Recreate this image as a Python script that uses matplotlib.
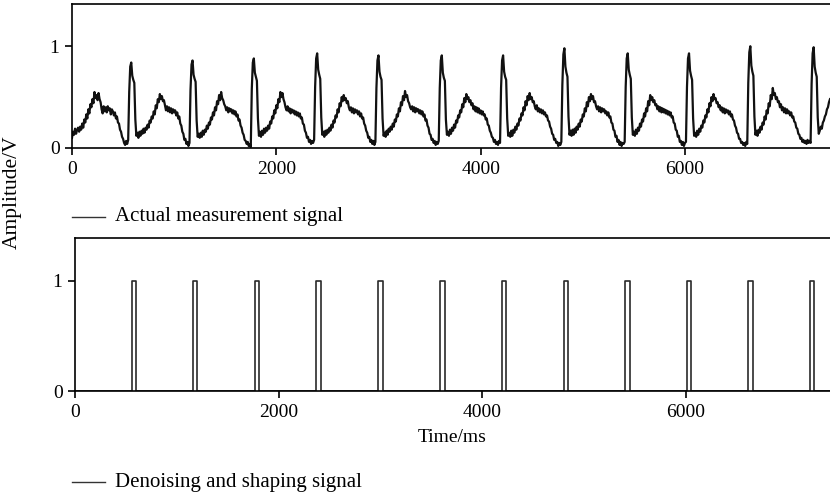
import numpy as np
import matplotlib
matplotlib.use("Agg")
import matplotlib.pyplot as plt

plt.rcParams['font.family'] = ['Liberation Serif', 'DejaVu Serif']
plt.rcParams['font.size'] = 14

# raw channel, 10 ms samples; one segment per beat, starting at each spike
sample_ms = 10
beat_starts = [0, 560, 1160, 1760, 2380, 2980, 3600, 4200, 4800, 5420, 6020, 6620, 7240]

lead_in = [
    0.10, 0.16, 0.13, 0.19, 0.14, 0.18, 0.20, 0.16, 0.21, 0.18,
    0.24, 0.20, 0.28, 0.25, 0.33, 0.29, 0.38, 0.34, 0.43, 0.40,
    0.48, 0.44, 0.55, 0.49, 0.52, 0.47, 0.54, 0.48, 0.45, 0.38,
    0.34, 0.41, 0.36, 0.40, 0.35, 0.41, 0.37, 0.39, 0.33, 0.38,
    0.36, 0.32, 0.35, 0.29, 0.31, 0.25, 0.24, 0.18, 0.16, 0.11,
    0.09, 0.05, 0.03, 0.07, 0.04, 0.08,
]
beat_1 = [
    0.55, 0.80, 0.84, 0.71, 0.67, 0.64, 0.28, 0.12, 0.15, 0.10,
    0.16, 0.12, 0.17, 0.14, 0.19, 0.15, 0.20, 0.18, 0.23, 0.20,
    0.27, 0.25, 0.31, 0.29, 0.36, 0.33, 0.42, 0.39, 0.48, 0.45,
    0.53, 0.48, 0.51, 0.46, 0.47, 0.42, 0.37, 0.41, 0.36, 0.40,
    0.35, 0.39, 0.34, 0.38, 0.35, 0.37, 0.32, 0.35, 0.29, 0.31,
    0.24, 0.22, 0.16, 0.14, 0.08, 0.09, 0.04, 0.06, 0.02, 0.05,
]
beat_2 = [
    0.57, 0.82, 0.86, 0.72, 0.68, 0.65, 0.27, 0.11, 0.14, 0.10,
    0.15, 0.11, 0.17, 0.13, 0.18, 0.16, 0.22, 0.19, 0.25, 0.23,
    0.30, 0.28, 0.35, 0.32, 0.40, 0.37, 0.46, 0.43, 0.52, 0.47,
    0.55, 0.49, 0.47, 0.43, 0.41, 0.37, 0.40, 0.35, 0.39, 0.36,
    0.38, 0.34, 0.37, 0.33, 0.36, 0.31, 0.33, 0.27, 0.28, 0.22,
    0.20, 0.15, 0.13, 0.08, 0.07, 0.04, 0.06, 0.02, 0.04, 0.01,
]
beat_3 = [
    0.58, 0.84, 0.88, 0.74, 0.70, 0.66, 0.29, 0.12, 0.16, 0.11,
    0.17, 0.13, 0.19, 0.15, 0.20, 0.17, 0.22, 0.19, 0.26, 0.24,
    0.31, 0.29, 0.37, 0.34, 0.42, 0.39, 0.48, 0.45, 0.55, 0.50,
    0.54, 0.48, 0.45, 0.40, 0.37, 0.41, 0.36, 0.39, 0.34, 0.38,
    0.35, 0.37, 0.33, 0.36, 0.32, 0.35, 0.31, 0.34, 0.29, 0.30,
    0.24, 0.23, 0.17, 0.15, 0.10, 0.11, 0.06, 0.08, 0.04, 0.07,
    0.05, 0.08,
]
beat_4 = [
    0.60, 0.88, 0.93, 0.77, 0.72, 0.68, 0.30, 0.13, 0.16, 0.11,
    0.17, 0.13, 0.18, 0.15, 0.20, 0.17, 0.23, 0.20, 0.27, 0.25,
    0.32, 0.30, 0.38, 0.35, 0.44, 0.41, 0.50, 0.46, 0.52, 0.47,
    0.49, 0.44, 0.46, 0.40, 0.37, 0.40, 0.35, 0.39, 0.34, 0.38,
    0.35, 0.37, 0.33, 0.36, 0.31, 0.34, 0.29, 0.30, 0.24, 0.22,
    0.17, 0.15, 0.10, 0.11, 0.06, 0.08, 0.04, 0.07, 0.03, 0.06,
]
beat_5 = [
    0.59, 0.86, 0.91, 0.75, 0.70, 0.67, 0.29, 0.12, 0.15, 0.11,
    0.17, 0.13, 0.19, 0.16, 0.21, 0.18, 0.24, 0.21, 0.28, 0.26,
    0.33, 0.31, 0.39, 0.36, 0.45, 0.42, 0.51, 0.47, 0.56, 0.50,
    0.52, 0.46, 0.44, 0.40, 0.38, 0.41, 0.36, 0.40, 0.35, 0.39,
    0.36, 0.38, 0.34, 0.37, 0.33, 0.36, 0.31, 0.33, 0.27, 0.28,
    0.22, 0.20, 0.14, 0.13, 0.08, 0.09, 0.05, 0.07, 0.03, 0.06,
    0.04, 0.07,
]
beat_6 = [
    0.59, 0.86, 0.91, 0.74, 0.69, 0.66, 0.28, 0.13, 0.16, 0.12,
    0.18, 0.14, 0.20, 0.17, 0.23, 0.20, 0.27, 0.25, 0.32, 0.30,
    0.37, 0.35, 0.43, 0.40, 0.49, 0.45, 0.53, 0.48, 0.50, 0.45,
    0.47, 0.42, 0.44, 0.38, 0.41, 0.36, 0.40, 0.35, 0.39, 0.34,
    0.37, 0.33, 0.36, 0.32, 0.33, 0.28, 0.29, 0.23, 0.22, 0.17,
    0.15, 0.11, 0.10, 0.06, 0.08, 0.04, 0.06, 0.03, 0.07, 0.05,
]
beat_7 = [
    0.59, 0.86, 0.91, 0.75, 0.70, 0.67, 0.29, 0.12, 0.15, 0.11,
    0.17, 0.12, 0.18, 0.15, 0.21, 0.18, 0.24, 0.22, 0.29, 0.27,
    0.34, 0.32, 0.40, 0.37, 0.46, 0.42, 0.51, 0.47, 0.54, 0.48,
    0.50, 0.45, 0.46, 0.41, 0.38, 0.42, 0.36, 0.39, 0.35, 0.38,
    0.34, 0.37, 0.33, 0.35, 0.31, 0.32, 0.27, 0.26, 0.21, 0.19,
    0.14, 0.13, 0.08, 0.09, 0.05, 0.06, 0.02, 0.05, 0.03, 0.06,
]
beat_8 = [
    0.62, 0.92, 0.98, 0.80, 0.74, 0.70, 0.31, 0.13, 0.17, 0.12,
    0.18, 0.13, 0.19, 0.15, 0.21, 0.18, 0.24, 0.21, 0.28, 0.26,
    0.33, 0.31, 0.39, 0.36, 0.45, 0.41, 0.50, 0.46, 0.53, 0.48,
    0.51, 0.45, 0.46, 0.41, 0.38, 0.41, 0.36, 0.40, 0.35, 0.39,
    0.36, 0.38, 0.34, 0.36, 0.32, 0.35, 0.30, 0.31, 0.25, 0.24,
    0.18, 0.17, 0.11, 0.12, 0.06, 0.08, 0.03, 0.06, 0.02, 0.05,
    0.04, 0.06,
]
beat_9 = [
    0.60, 0.88, 0.93, 0.77, 0.72, 0.68, 0.30, 0.13, 0.16, 0.12,
    0.18, 0.14, 0.20, 0.17, 0.24, 0.21, 0.28, 0.26, 0.34, 0.31,
    0.39, 0.36, 0.46, 0.42, 0.52, 0.47, 0.50, 0.45, 0.47, 0.42,
    0.43, 0.38, 0.41, 0.36, 0.40, 0.35, 0.39, 0.35, 0.38, 0.34,
    0.37, 0.33, 0.36, 0.32, 0.35, 0.30, 0.31, 0.25, 0.24, 0.18,
    0.17, 0.11, 0.12, 0.06, 0.07, 0.03, 0.06, 0.02, 0.05, 0.06,
]
beat_10 = [
    0.60, 0.88, 0.93, 0.76, 0.71, 0.67, 0.29, 0.12, 0.15, 0.11,
    0.17, 0.13, 0.19, 0.16, 0.22, 0.20, 0.27, 0.25, 0.32, 0.30,
    0.38, 0.35, 0.44, 0.41, 0.50, 0.46, 0.53, 0.48, 0.49, 0.44,
    0.45, 0.40, 0.42, 0.37, 0.40, 0.35, 0.39, 0.34, 0.38, 0.35,
    0.37, 0.33, 0.36, 0.31, 0.33, 0.28, 0.27, 0.22, 0.20, 0.15,
    0.14, 0.09, 0.09, 0.05, 0.06, 0.03, 0.05, 0.02, 0.06, 0.04,
]
beat_11 = [
    0.64, 0.94, 1.00, 0.81, 0.75, 0.71, 0.31, 0.13, 0.17, 0.12,
    0.18, 0.15, 0.21, 0.18, 0.25, 0.23, 0.31, 0.28, 0.37, 0.34,
    0.44, 0.41, 0.52, 0.48, 0.59, 0.52, 0.54, 0.48, 0.50, 0.45,
    0.46, 0.40, 0.43, 0.37, 0.40, 0.35, 0.39, 0.34, 0.38, 0.34,
    0.36, 0.32, 0.35, 0.30, 0.31, 0.26, 0.25, 0.20, 0.19, 0.14,
    0.13, 0.09, 0.10, 0.06, 0.08, 0.05, 0.07, 0.04, 0.08, 0.05,
    0.07, 0.05,
]
beat_12 = [
    0.63, 0.93, 0.99, 0.80, 0.74, 0.70, 0.30, 0.14, 0.17, 0.21,
    0.19, 0.25, 0.27, 0.31, 0.33, 0.38, 0.40, 0.45, 0.48,
]
segments = [lead_in, beat_1, beat_2, beat_3, beat_4, beat_5, beat_6,
            beat_7, beat_8, beat_9, beat_10, beat_11, beat_12]

# shaped output: rising edges of the square pulses (ms) and their width
pulse_starts = [559, 1157, 1765, 2373, 2980, 3588, 4193, 4804, 5409, 6010, 6618, 7222]
pulse_width = 45
pulse_level = 1

t, v = [], []
for start, seg in zip(beat_starts, segments):
    t += [start + sample_ms * i for i in range(len(seg))]
    v += seg

# square wave polyline from the pulse edges
px, py = [0], [0]
for s in pulse_starts:
    px += [s, s, s + pulse_width, s + pulse_width]
    py += [0, pulse_level, pulse_level, 0]
px.append(7420)
py.append(0)

W, H = 830, 498
fig = plt.figure(figsize=(W / 100, H / 100), dpi=100)
ax1 = fig.add_axes([72 / W, 1 - 148 / H, 1 - 72 / W, 144 / H])
ax2 = fig.add_axes([75 / W, 1 - 391 / H, 1 - 75 / W, 153 / H])

ax1.plot(t, v, color='#111111', lw=1.6)
ax2.plot(px, py, color='#2a2a2a', lw=1.2)

ax1.set_ylim(0, 1.415)
ax2.set_ylim(0, 1.39)
for ax in (ax1, ax2):
    ax.set_xlim(0, 7420)
    ax.set_xticks([0, 2000, 4000, 6000])
    ax.set_yticks([0, 1])
    ax.spines['right'].set_visible(False)
    for sp in ('left', 'top', 'bottom'):
        ax.spines[sp].set_linewidth(1.2)
    ax.tick_params(direction='out', length=5, width=1.2, pad=4)

ax2.set_xlabel('Time/ms', labelpad=6)
fig.text(12 / W, 1 - 192 / H, 'Amplitude/V', rotation=90, ha='center', va='center', fontsize=15.5)

# legends under each panel
fig.add_artist(plt.Line2D([72 / W, 105 / W], [1 - 217 / H] * 2, color='#333333', lw=1))
fig.text(115 / W, 1 - 217 / H, 'Actual measurement signal', va='center', fontsize=15)
fig.add_artist(plt.Line2D([72 / W, 105 / W], [1 - 482 / H] * 2, color='#333333', lw=1))
fig.text(115 / W, 1 - 482 / H, 'Denoising and shaping signal', va='center', fontsize=15)

fig.savefig('out.png', dpi=100)
